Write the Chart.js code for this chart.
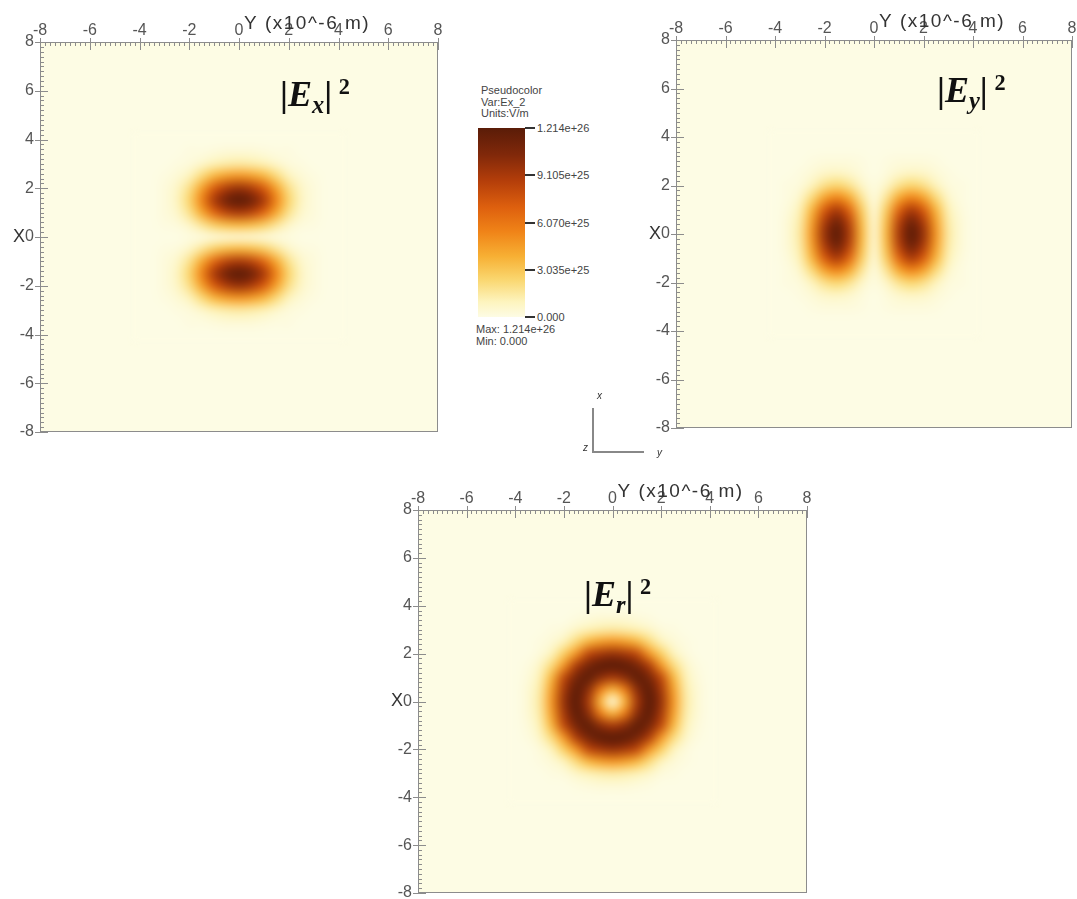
<!DOCTYPE html>
<html><head><meta charset="utf-8">
<script src="https://cdn.jsdelivr.net/npm/chart.js@4.4.0/dist/chart.umd.min.js"></script>
<style>
body{margin:0;background:#fff;width:1077px;height:899px;overflow:hidden;position:relative;font-family:"Liberation Sans",Arial,sans-serif;}
canvas{position:absolute;}
.ttl{position:absolute;font-family:"Liberation Serif","DejaVu Serif",serif;font-weight:bold;font-size:36px;line-height:1;color:#111;white-space:nowrap}
.ttl i{font-style:italic}
.ttl .sb{font-style:italic;font-size:0.68em;position:relative;top:0.28em}
.ttl .sp{font-size:0.62em;position:relative;top:-0.55em;margin-left:0.3em}
.cb{position:absolute;font-family:"Liberation Sans Narrow","Liberation Sans",Arial,sans-serif;font-size:11px;color:#444;white-space:nowrap;line-height:1}
.dash{position:absolute;height:2px;background:#333;width:10px}
.tri{position:absolute;background:#888}
.tl{position:absolute;font-family:"Liberation Sans",Arial,sans-serif;font-style:italic;font-size:10px;color:#333;line-height:1}
</style></head><body>
<script>
// ---- data (intensity in % of max 1.214e+26) ----
const gridY = [-4,-3.5,-3,-2.5,-2,-1.5,-1,-0.5,0,0.5,1,1.5,2,2.5,3,3.5,4];
const gridX = [4,3.5,3,2.5,2,1.5,1,0.5,0,-0.5,-1,-1.5,-2,-2.5,-3,-3.5,-4];
const axisTicks = [-8,-6,-4,-2,0,2,4,6,8];
const exValues = [
 [0,0,0,0,0,0,0,0,0,0,0,0,0,0,0,0,0],
 [0,0,0,0,1,1,2,3,3,3,2,1,1,0,0,0,0],
 [0,0,0,1,2,5,9,11,12,11,9,5,2,1,0,0,0],
 [0,0,1,3,8,18,30,37,40,37,30,18,8,3,1,0,0],
 [0,0,2,6,16,36,60,74,80,74,60,36,16,6,2,0,0],
 [0,0,2,7,20,45,75,93,100,93,75,45,20,7,2,0,0],
 [0,0,2,5,15,34,56,70,75,70,56,34,15,5,2,0,0],
 [0,0,1,2,6,14,23,28,30,28,23,14,6,2,1,0,0],
 [0,0,0,0,1,1,2,3,3,3,2,1,1,0,0,0,0],
 [0,0,1,2,6,14,23,28,30,28,23,14,6,2,1,0,0],
 [0,0,2,5,15,34,56,70,75,70,56,34,15,5,2,0,0],
 [0,0,2,7,20,45,75,93,100,93,75,45,20,7,2,0,0],
 [0,0,2,6,16,36,60,74,80,74,60,36,16,6,2,0,0],
 [0,0,1,3,8,18,30,37,40,37,30,18,8,3,1,0,0],
 [0,0,0,1,2,5,9,11,12,11,9,5,2,1,0,0,0],
 [0,0,0,0,1,1,2,3,3,3,2,1,1,0,0,0,0],
 [0,0,0,0,0,0,0,0,0,0,0,0,0,0,0,0,0]
];
const eyValues = [
 [0,0,0,0,0,0,0,0,0,0,0,0,0,0,0,0,0],
 [0,0,0,0,0,0,0,0,0,0,0,0,0,0,0,0,0],
 [0,0,0,1,2,2,2,1,0,1,2,2,2,1,0,0,0],
 [0,0,1,3,6,7,5,2,0,2,5,7,6,3,1,0,0],
 [0,1,2,8,16,20,15,6,1,6,15,20,16,8,2,1,0],
 [0,1,5,18,36,45,34,14,1,14,34,45,36,18,5,1,0],
 [0,2,9,30,60,75,56,23,2,23,56,75,60,30,9,2,0],
 [0,3,11,37,74,93,70,28,3,28,70,93,74,37,11,3,0],
 [0,3,12,40,80,100,75,30,3,30,75,100,80,40,12,3,0],
 [0,3,11,37,74,93,70,28,3,28,70,93,74,37,11,3,0],
 [0,2,9,30,60,75,56,23,2,23,56,75,60,30,9,2,0],
 [0,1,5,18,36,45,34,14,1,14,34,45,36,18,5,1,0],
 [0,1,2,8,16,20,15,6,1,6,15,20,16,8,2,1,0],
 [0,0,1,3,6,7,5,2,0,2,5,7,6,3,1,0,0],
 [0,0,0,1,2,2,2,1,0,1,2,2,2,1,0,0,0],
 [0,0,0,0,0,0,0,0,0,0,0,0,0,0,0,0,0],
 [0,0,0,0,0,0,0,0,0,0,0,0,0,0,0,0,0]
];
const erValues = [
 [0,0,0,0,0,0,0,0,0,0,0,0,0,0,0,0,0],
 [0,0,0,0,0,1,2,3,3,3,2,1,0,0,0,0,0],
 [0,0,0,1,2,6,9,11,12,11,9,6,2,1,0,0,0],
 [0,0,1,3,8,18,30,37,40,37,30,18,8,3,1,0,0],
 [0,0,2,8,22,40,68,76,80,76,68,40,22,8,2,0,0],
 [0,1,6,18,40,74,90,99,100,99,90,74,40,18,6,1,0],
 [0,2,9,30,68,90,98,83,75,83,98,90,68,30,9,2,0],
 [0,3,11,37,76,99,83,48,30,48,83,99,76,37,11,3,0],
 [0,3,12,40,80,100,75,30,0,30,75,100,80,40,12,3,0],
 [0,3,11,37,76,99,83,48,30,48,83,99,76,37,11,3,0],
 [0,2,9,30,68,90,98,83,75,83,98,90,68,30,9,2,0],
 [0,1,6,18,40,74,90,99,100,99,90,74,40,18,6,1,0],
 [0,0,2,8,22,40,68,76,80,76,68,40,22,8,2,0,0],
 [0,0,1,3,8,18,30,37,40,37,30,18,8,3,1,0,0],
 [0,0,0,1,2,6,9,11,12,11,9,6,2,1,0,0,0],
 [0,0,0,0,0,1,2,3,3,3,2,1,0,0,0,0,0],
 [0,0,0,0,0,0,0,0,0,0,0,0,0,0,0,0,0]
];
const colorbarLabels = ['1.214e+26','9.105e+25','6.070e+25','3.035e+25','0.000'];
const colorbarLevels = [100,75,50,25,0];

// ---- colormap (style) ----
const cmapPos = [0,0.08,0.2,0.32,0.45,0.58,0.72,0.86,1];
const cmapRGB = [[253,252,228],[253,244,190],[250,214,110],[247,176,52],[240,132,24],[222,96,14],[180,62,10],[128,40,10],[90,28,8]];
function cmap(t){
  t=Math.max(0,Math.min(1,t));
  for(let i=1;i<cmapPos.length;i++){
    if(t<=cmapPos[i]){const f=(t-cmapPos[i-1])/(cmapPos[i]-cmapPos[i-1]);
      return cmapRGB[i-1].map((c,k)=>Math.round(c+(cmapRGB[i][k]-c)*f));}
  }
  return cmapRGB[cmapRGB.length-1];
}
const rgb=c=>`rgb(${c[0]},${c[1]},${c[2]})`;

const heatPlugin = {
  id:'heat',
  beforeDatasetsDraw(chart){
    const {ctx, chartArea:a, scales:{x,y}} = chart;
    ctx.save();
    ctx.fillStyle = rgb(cmap(0));
    ctx.fillRect(a.left,a.top,a.right-a.left,a.bottom-a.top);
    const pts = chart.data.datasets[0].data;
    const nC=gridY.length, nR=gridX.length;
    const off=document.createElement('canvas'); off.width=nC; off.height=nR;
    const o=off.getContext('2d'); const img=o.createImageData(nC,nR);
    pts.forEach(p=>{
      const c=gridY.indexOf(p.x), r=gridX.indexOf(p.y), col=cmap(p.v/100), k=(r*nC+c)*4;
      img.data[k]=col[0];img.data[k+1]=col[1];img.data[k+2]=col[2];img.data[k+3]=255;
    });
    o.putImageData(img,0,0);
    const h=(gridY[1]-gridY[0])/2;
    const x0=x.getPixelForValue(gridY[0]-h), x1=x.getPixelForValue(gridY[nC-1]+h);
    const y0=y.getPixelForValue(gridX[0]+h), y1=y.getPixelForValue(gridX[nR-1]-h);
    ctx.beginPath(); ctx.rect(a.left,a.top,a.right-a.left,a.bottom-a.top); ctx.clip();
    ctx.imageSmoothingEnabled=true; ctx.imageSmoothingQuality='high';
    ctx.filter='blur(3px)';
    ctx.drawImage(off,x0,y0,x1-x0,y1-y0);
    ctx.restore();
  },
  afterDraw(chart){
    const {ctx, chartArea:a, scales:{x,y}} = chart;
    ctx.save();
    ctx.strokeStyle='#8c8c8c'; ctx.lineWidth=1;
    ctx.strokeRect(a.left+0.5,a.top+0.5,a.right-a.left-1,a.bottom-a.top-1);
    ctx.beginPath();
    for(let i=-40;i<=40;i++){
      const v=i*0.2, major=(i%10===0);
      const px=Math.round(x.getPixelForValue(v))+0.5;
      ctx.moveTo(px,a.top-(major?4:0)); ctx.lineTo(px,a.top+(major?8:4));
      const py=Math.round(y.getPixelForValue(v))+0.5;
      ctx.moveTo(a.left-(major?5:0),py); ctx.lineTo(a.left+(major?8:4),py);
    }
    ctx.stroke();
    ctx.fillStyle='#333'; ctx.font='19px "Liberation Sans", Arial, sans-serif';
    if('letterSpacing' in ctx) ctx.letterSpacing='1.5px';
    ctx.textAlign='left'; ctx.textBaseline='alphabetic';
    ctx.fillText('Y (x10^-6 m)', x.getPixelForValue(0)+5, a.top-13);
    if('letterSpacing' in ctx) ctx.letterSpacing='0px';
    ctx.font='16px "Liberation Sans", Arial, sans-serif';
    const w0=ctx.measureText('0').width;
    ctx.font='18px "Liberation Sans", Arial, sans-serif';
    ctx.textAlign='right'; ctx.textBaseline='middle';
    ctx.fillText('X', a.left-6-w0, y.getPixelForValue(0));
    ctx.restore();
  }
};

function makePanel(values, plot){
  const AW=45, PR=20;
  const cv=document.createElement('canvas');
  cv.width=AW+plot.w+PR; cv.height=AW+plot.h+PR;
  cv.style.left=(plot.left-AW)+'px'; cv.style.top=(plot.top-AW)+'px';
  document.body.appendChild(cv);
  const data=[];
  gridX.forEach((xv,r)=>gridY.forEach((yv,c)=>data.push({x:yv,y:xv,v:values[r][c]})));
  const tickFont={size:16,family:'"Liberation Sans", Arial, sans-serif'};
  new Chart(cv,{
    type:'scatter',
    data:{datasets:[{data, pointRadius:0, pointHoverRadius:0}]},
    options:{
      responsive:false, animation:false, events:[],
      layout:{padding:{left:0,top:0,right:PR,bottom:PR}},
      plugins:{legend:{display:false},tooltip:{enabled:false}},
      scales:{
        x:{type:'linear',position:'top',min:axisTicks[0],max:axisTicks[axisTicks.length-1],
           afterFit(s){s.height=AW;},
           afterBuildTicks(s){s.ticks=axisTicks.map(v=>({value:v}));},
           ticks:{color:'#555',font:tickFont,padding:2,maxRotation:0,autoSkip:false},
           grid:{display:false,drawTicks:false},border:{display:false}},
        y:{type:'linear',position:'left',min:axisTicks[0],max:axisTicks[axisTicks.length-1],
           afterFit(s){s.width=AW;},
           afterBuildTicks(s){s.ticks=axisTicks.map(v=>({value:v}));},
           ticks:{color:'#555',font:tickFont,padding:6,autoSkip:false},
           grid:{display:false,drawTicks:false},border:{display:false}}
      }
    },
    plugins:[heatPlugin]
  });
}
makePanel(exValues,{left:40,top:42,w:398,h:390});
makePanel(eyValues,{left:676,top:40,w:396,h:388});
makePanel(erValues,{left:418,top:510,w:389,h:383});

// ---- colorbar ----
const cb={left:478,top:128,w:47,h:189};
const bar=document.createElement('div');
bar.style.cssText=`position:absolute;left:${cb.left}px;top:${cb.top}px;width:${cb.w}px;height:${cb.h}px;background:linear-gradient(to top,${cmapPos.map((p,i)=>rgb(cmapRGB[i])+' '+(p*100)+'%').join(',')})`;
document.body.appendChild(bar);
colorbarLevels.forEach((lv,i)=>{
  const yy=cb.top+(1-lv/100)*cb.h;
  const d=document.createElement('div'); d.className='dash';
  d.style.left=(cb.left+cb.w)+'px'; d.style.top=(yy-1)+'px'; document.body.appendChild(d);
  const t=document.createElement('div'); t.className='cb'; t.textContent=colorbarLabels[i];
  t.style.left=(cb.left+cb.w+12)+'px'; t.style.top=(yy-5)+'px'; document.body.appendChild(t);
});
[['Pseudocolor',481,85],['Var:Ex_2',481,97],['Units:V/m',481,108],['Max: 1.214e+26',476,324],['Min: 0.000',476,336]].forEach(([s,l,t])=>{
  const e=document.createElement('div'); e.className='cb'; e.textContent=s; e.style.left=l+'px'; e.style.top=t+'px'; document.body.appendChild(e);
});
</script>
<div class="ttl" style="left:280px;top:76px">|<i>E</i><span class="sb">x</span>|<span class="sp">2</span></div>
<div class="ttl" style="left:937px;top:72px">|<i>E</i><span class="sb">y</span>|<span class="sp">2</span></div>
<div class="ttl" style="left:584px;top:576px">|<i>E</i><span class="sb">r</span>|<span class="sp">2</span></div>
<div class="tri" style="left:592px;top:408px;width:2px;height:45px"></div>
<div class="tri" style="left:592px;top:451px;width:52px;height:2px"></div>
<div class="tl" style="left:597px;top:391px">x</div>
<div class="tl" style="left:583px;top:443px">z</div>
<div class="tl" style="left:657px;top:448px">y</div>
</body></html>
